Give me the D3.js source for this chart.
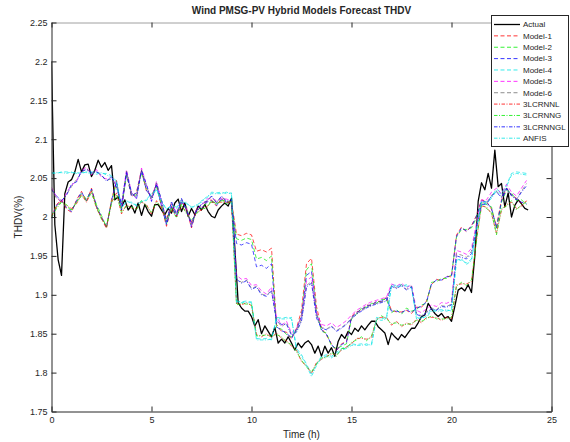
<!DOCTYPE html>
<html><head><meta charset="utf-8">
<script src="https://cdn.jsdelivr.net/npm/d3@7"></script>
<style>body{margin:0;background:#fff}svg{display:block}text{font-family:"Liberation Sans",Arial,Helvetica,sans-serif;fill:#262626}</style>
</head><body><svg id="c" width="570" height="442"></svg>
<script>
// ---- data ----
const xTicks=[0,5,10,15,20,25];
const yTicks=[1.75,1.8,1.85,1.9,1.95,2,2.05,2.1,2.15,2.2,2.25];
const seriesNames=["Actual","Model-1","Model-2","Model-3","Model-4","Model-5","Model-6","3LCRNNL","3LCRNNG","3LCRNNGL","ANFIS"];
const actualStep=1/6, modelStep=0.25;
const actual=[2.20,1.99,1.945,1.925,2.03,2.045,2.048,2.058,2.074,2.058,2.067,2.068,2.052,2.06,2.073,2.064,2.07,2.06,2.066,2.022,2.026,2.013,2.022,2.009,2.015,2.005,2.018,2.002,2.016,2.007,2.001,2.016,2.016,2.009,2.003,2.011,2.005,2.018,2.023,2.007,2.018,2.001,2.011,2.003,2.014,2.009,2.016,2.007,2.001,1.999,2.009,2.014,2.018,2.014,2.024,1.96,1.89,1.883,1.879,1.879,1.872,1.86,1.868,1.85,1.86,1.853,1.846,1.858,1.838,1.843,1.838,1.846,1.838,1.829,1.838,1.832,1.838,1.841,1.836,1.825,1.834,1.821,1.834,1.825,1.832,1.821,1.84,1.849,1.844,1.853,1.849,1.857,1.853,1.86,1.855,1.861,1.866,1.866,1.859,1.855,1.851,1.836,1.851,1.846,1.842,1.849,1.845,1.851,1.857,1.857,1.864,1.872,1.874,1.889,1.882,1.876,1.872,1.876,1.87,1.872,1.866,1.885,1.906,1.909,1.905,1.913,1.903,1.95,2.02,2.044,2.035,2.056,2.037,2.086,2.039,2.043,2.013,2.031,2.0,2.015,2.022,2.017,2.011,2.009];
const model1=[2.0,2.016,2.022,2.01,2.006,2.022,2.033,2.02,2.037,2.013,1.998,1.985,2.022,
2.047,2.008,2.057,2.026,2.032,2.06,2.033,2.027,2.042,2.013,1.988,2.014,2.0,2.02,2.01,1.986,2.01,2.01,2.02,2.022,2.014,2.024,2.018,2.02,
1.978,1.976,1.979,1.977,1.956,1.958,1.955,1.96,
1.862,1.853,1.852,1.843,1.857,1.88,1.94,1.947,1.885,1.857,1.848,1.837,1.828,1.837,
1.84,1.872,1.878,1.88,1.887,1.886,1.892,1.891,1.897,1.88,1.878,1.878,1.88,1.876,1.884,1.884,1.892,1.913,1.92,1.918,1.924,1.923,1.977,1.987,1.981,1.989,2.002,2.022,
2.02,2.01,1.988,2.022,2.037,2.028,2.024,2.018,2.02];
const model2=[2.002,2.014,2.019,2.013,2.009,2.019,2.03,2.023,2.034,2.016,2.002,1.987,2.019,
2.044,2.011,2.054,2.029,2.028,2.057,2.036,2.024,2.039,2.016,1.991,2.011,2.004,2.017,2.013,1.989,2.007,2.013,2.017,2.019,2.017,2.021,2.021,2.017,
1.972,1.97,1.973,1.971,1.946,1.948,1.944,1.95,
1.858,1.856,1.849,1.846,1.854,1.874,1.932,1.94,1.878,1.853,1.851,1.834,1.831,1.834,
1.837,1.869,1.875,1.883,1.884,1.889,1.889,1.894,1.894,1.877,1.881,1.875,1.883,1.879,1.881,1.887,1.889,1.916,1.917,1.921,1.921,1.926,1.974,1.984,1.984,1.986,1.999,2.019,
2.016,2.013,1.984,2.019,2.034,2.031,2.021,2.022,2.016];
const model3=[1.998,2.015,2.021,2.012,2.007,2.021,2.032,2.021,2.036,2.014,2.0,1.987,2.021,
2.046,2.009,2.056,2.027,2.031,2.059,2.034,2.026,2.041,2.014,1.99,2.013,2.001,2.019,2.011,1.987,2.009,2.011,2.019,2.021,2.015,2.023,2.019,2.019,
1.966,1.964,1.967,1.965,1.936,1.938,1.934,1.94,
1.859,1.854,1.851,1.844,1.856,1.872,1.925,1.93,1.876,1.855,1.849,1.836,1.829,1.836,
1.839,1.871,1.877,1.881,1.886,1.887,1.891,1.892,1.896,1.879,1.879,1.877,1.881,1.877,1.883,1.885,1.891,1.914,1.919,1.919,1.923,1.924,1.975,1.986,1.982,1.988,2.001,2.021,
2.019,2.011,1.986,2.021,2.036,2.029,2.023,2.019,2.017];
const model4=[2.057,2.056,2.058,2.058,2.057,2.057,2.056,2.058,2.058,2.057,2.056,2.056,2.053,
2.046,2.013,2.019,2.019,2.014,2.021,2.021,2.031,2.034,2.021,2.009,2.016,2.011,2.021,2.017,2.013,2.014,2.021,2.024,2.032,2.031,2.032,2.03,2.031,
1.892,1.891,1.892,1.89,1.844,1.843,1.844,1.842,
1.871,1.87,1.871,1.869,1.831,1.823,1.811,1.798,1.811,1.821,1.823,1.821,1.826,1.831,
1.833,1.837,1.836,1.837,1.835,1.837,1.871,1.869,1.871,1.913,1.912,1.913,1.911,1.911,1.871,1.869,1.873,1.881,1.88,1.881,1.879,1.881,1.946,1.944,1.941,1.946,1.986,2.021,
2.019,2.026,2.036,2.031,2.041,2.056,2.058,2.057,2.056];
const model5=[2.038,2.026,2.018,2.031,2.041,2.046,2.06,2.064,2.054,2.061,2.051,2.049,2.051,
2.041,2.014,2.061,2.031,2.024,2.063,2.041,2.021,2.046,2.019,1.996,2.017,2.006,2.021,2.011,1.989,2.011,2.014,2.023,2.024,2.021,2.024,2.023,2.021,
1.925,1.92,1.921,1.912,1.913,1.905,1.901,1.91,
1.872,1.861,1.866,1.851,1.857,1.872,1.918,1.923,1.877,1.862,1.86,1.864,1.858,1.862,
1.867,1.874,1.88,1.884,1.888,1.891,1.893,1.895,1.897,1.914,1.911,1.915,1.909,1.913,1.88,1.877,1.882,1.887,1.885,1.89,1.889,1.892,1.957,1.955,1.952,1.96,1.992,2.022,
2.022,2.032,2.037,2.03,2.042,2.032,2.027,2.037,2.047];
const model6=[2.036,2.024,2.02,2.029,2.039,2.048,2.057,2.062,2.056,2.059,2.053,2.047,2.049,
2.039,2.016,2.059,2.029,2.026,2.061,2.039,2.023,2.044,2.021,1.994,2.019,2.004,2.023,2.009,1.991,2.009,2.016,2.021,2.026,2.019,2.026,2.021,2.019,
1.921,1.916,1.919,1.908,1.911,1.901,1.899,1.906,
1.868,1.859,1.864,1.849,1.853,1.868,1.912,1.917,1.873,1.858,1.856,1.86,1.854,1.858,
1.863,1.87,1.876,1.88,1.884,1.887,1.889,1.891,1.893,1.912,1.909,1.913,1.907,1.911,1.876,1.873,1.878,1.883,1.881,1.886,1.885,1.888,1.953,1.951,1.948,1.956,1.988,2.018,
2.018,2.028,2.033,2.026,2.038,2.028,2.023,2.033,2.043];
const lcrnnL=[2.001,2.013,2.021,2.014,2.011,2.017,2.029,2.019,2.033,2.011,1.999,1.987,2.019,
2.031,2.004,2.016,2.011,2.011,2.019,2.016,2.004,2.021,2.011,1.999,2.009,2.001,2.014,2.006,1.994,2.006,2.009,2.013,2.019,2.019,2.019,2.019,2.019,
1.889,1.887,1.89,1.886,1.849,1.846,1.85,1.845,
1.851,1.844,1.841,1.834,1.829,1.814,1.809,1.799,1.813,1.817,1.821,1.824,1.823,1.829,
1.833,1.837,1.844,1.844,1.843,1.845,1.869,1.871,1.871,1.861,1.866,1.859,1.864,1.861,1.869,1.864,1.871,1.871,1.871,1.867,1.871,1.869,1.913,1.914,1.914,1.917,1.971,2.014,
2.013,2.004,1.979,2.009,2.016,2.019,2.011,2.014,2.021];
const lcrnnG=[1.999,2.011,2.019,2.016,2.009,2.019,2.027,2.021,2.031,2.013,1.997,1.989,2.017,
2.029,2.006,2.014,2.013,2.009,2.021,2.014,2.006,2.019,2.013,1.997,2.011,1.999,2.016,2.004,1.996,2.004,2.011,2.011,2.021,2.017,2.021,2.017,2.021,
1.887,1.889,1.888,1.888,1.847,1.848,1.848,1.847,
1.849,1.846,1.839,1.836,1.827,1.816,1.807,1.801,1.811,1.819,1.819,1.826,1.821,1.831,
1.831,1.839,1.842,1.846,1.841,1.847,1.867,1.873,1.869,1.863,1.864,1.861,1.862,1.863,1.867,1.866,1.869,1.873,1.869,1.869,1.869,1.871,1.911,1.916,1.912,1.919,1.969,2.016,
2.011,2.006,1.977,2.011,2.014,2.021,2.009,2.016,2.019];
const lcrnnGL=[2.035,2.027,2.021,2.028,2.042,2.045,2.059,2.061,2.057,2.058,2.054,2.046,2.052,
2.038,2.017,2.058,2.032,2.023,2.06,2.042,2.02,2.043,2.022,1.993,2.02,2.003,2.024,2.008,1.992,2.008,2.017,2.02,2.027,2.018,2.027,2.02,2.022,
1.92,1.915,1.918,1.907,1.91,1.9,1.898,1.905,
1.866,1.862,1.862,1.848,1.852,1.866,1.91,1.915,1.87,1.857,1.855,1.859,1.853,1.857,
1.862,1.869,1.875,1.879,1.883,1.886,1.888,1.89,1.892,1.911,1.908,1.912,1.906,1.91,1.875,1.872,1.877,1.882,1.88,1.885,1.884,1.887,1.95,1.948,1.946,1.953,1.986,2.016,
2.016,2.027,2.032,2.025,2.037,2.027,2.022,2.032,2.04];
const anfis=[2.056,2.057,2.057,2.056,2.058,2.056,2.057,2.057,2.056,2.055,2.057,2.054,2.051,
2.044,2.011,2.021,2.017,2.016,2.019,2.023,2.029,2.036,2.019,2.011,2.014,2.013,2.019,2.019,2.011,2.016,2.019,2.026,2.03,2.03,2.03,2.032,2.029,
1.89,1.89,1.89,1.891,1.842,1.842,1.842,1.843,
1.869,1.869,1.869,1.871,1.829,1.821,1.809,1.795,1.809,1.819,1.821,1.819,1.824,1.829,
1.831,1.835,1.835,1.835,1.837,1.835,1.869,1.867,1.869,1.911,1.911,1.911,1.913,1.909,1.869,1.871,1.871,1.879,1.879,1.879,1.881,1.879,1.944,1.946,1.939,1.944,1.984,2.019,
2.017,2.024,2.034,2.029,2.039,2.054,2.056,2.055,2.054];

// ---- styles ----
const dashA="4,2.5", dashDot="3.5,1.5,1,1.5";
const series=[
 {name:seriesNames[0],values:actual,step:actualStep,color:"#000",dash:null,w:1.3},
 {name:seriesNames[1],values:model1,step:modelStep,color:"#ff0000",dash:dashA,w:0.7},
 {name:seriesNames[2],values:model2,step:modelStep,color:"#00ee00",dash:dashA,w:0.7},
 {name:seriesNames[3],values:model3,step:modelStep,color:"#0000ff",dash:dashA,w:0.7},
 {name:seriesNames[4],values:model4,step:modelStep,color:"#00e5e5",dash:dashA,w:0.7},
 {name:seriesNames[5],values:model5,step:modelStep,color:"#ff00ff",dash:dashA,w:0.7},
 {name:seriesNames[6],values:model6,step:modelStep,color:"#707070",dash:dashA,w:0.7},
 {name:seriesNames[7],values:lcrnnL,step:modelStep,color:"#ff0000",dash:dashDot,w:0.7},
 {name:seriesNames[8],values:lcrnnG,step:modelStep,color:"#00ee00",dash:dashDot,w:0.7},
 {name:seriesNames[9],values:lcrnnGL,step:modelStep,color:"#0000ff",dash:dashDot,w:0.7},
 {name:seriesNames[10],values:anfis,step:modelStep,color:"#00e5e5",dash:dashDot,w:0.7}
];

const svg=d3.select("#c");
svg.append("rect").attr("width",570).attr("height",442).attr("fill","#fff");
const L=51.5,R=551.5,T=22.5,B=411.5;
const x=d3.scaleLinear().domain([0,25]).range([L,R]);
const y=d3.scaleLinear().domain([1.75,2.25]).range([B,T]);

svg.append("defs").append("clipPath").attr("id","clip").append("rect")
 .attr("x",L).attr("y",T).attr("width",R-L).attr("height",B-T);

const gLines=svg.append("g").attr("clip-path","url(#clip)");
const line=d3.line().x(d=>x(d[0])).y(d=>y(d[1]));
series.forEach(s=>{
  const pts=s.values.map((v,i)=>[i*s.step,v]);
  gLines.append("path").datum(pts).attr("d",line).attr("fill","none")
   .attr("stroke",s.color).attr("stroke-width",s.w)
   .attr("stroke-dasharray",s.dash).attr("stroke-linejoin","round");
});

// axes
const axCol="#262626";
function style(g){g.selectAll("path,line").attr("stroke",axCol);g.selectAll("text").attr("fill",axCol).style("font-size","9px").style("font-family",'"Liberation Sans",Arial,sans-serif');}
svg.append("g").attr("transform",`translate(0,${B})`)
 .call(d3.axisBottom(x).tickValues(xTicks).tickSize(-5).tickSizeOuter(0).tickPadding(5).tickFormat(d3.format("d"))).call(style);
const topAx=svg.append("g").attr("transform",`translate(0,${T})`)
 .call(d3.axisTop(x).tickValues(xTicks).tickSize(-5).tickSizeOuter(0).tickFormat("")).call(style);
topAx.select(".domain").attr("stroke","#a0a0a0");
svg.append("g").attr("transform",`translate(${L},0)`)
 .call(d3.axisLeft(y).tickValues(yTicks).tickSize(-5).tickSizeOuter(0).tickPadding(4).tickFormat(d=>d3.format("")(+d.toFixed(2)))).call(style);
svg.append("g").attr("transform",`translate(${R},0)`)
 .call(d3.axisRight(y).tickValues(yTicks).tickSize(-5).tickSizeOuter(0).tickFormat("")).call(style);
svg.selectAll(".domain").attr("stroke-width",1);

// labels
svg.append("text").attr("x",(L+R)/2).attr("y",14).attr("text-anchor","middle")
 .style("font-size","10px").style("font-weight","bold").text("Wind PMSG-PV Hybrid Models Forecast THDV");
svg.append("text").attr("x",(L+R)/2).attr("y",438).attr("text-anchor","middle")
 .style("font-size","10px").text("Time (h)");
svg.append("text").attr("transform",`translate(22,${(T+B)/2}) rotate(-90)`).attr("text-anchor","middle")
 .style("font-size","10px").text("THDV(%)");

// legend
const lg=svg.append("g");
lg.append("rect").attr("x",491.5).attr("y",15.5).attr("width",77).attr("height",131)
 .attr("fill","#fff").attr("stroke",axCol).attr("stroke-width",1);
series.forEach((s,i)=>{
  const cy=24.5+i*11.37;
  lg.append("line").attr("x1",494).attr("x2",520).attr("y1",cy).attr("y2",cy)
   .attr("stroke",s.color).attr("stroke-width",i===0?1.3:0.8).attr("stroke-dasharray",s.dash);
  lg.append("text").attr("x",523).attr("y",cy).attr("dy","0.35em").style("font-size","8px").text(s.name);
});
</script></body></html>
